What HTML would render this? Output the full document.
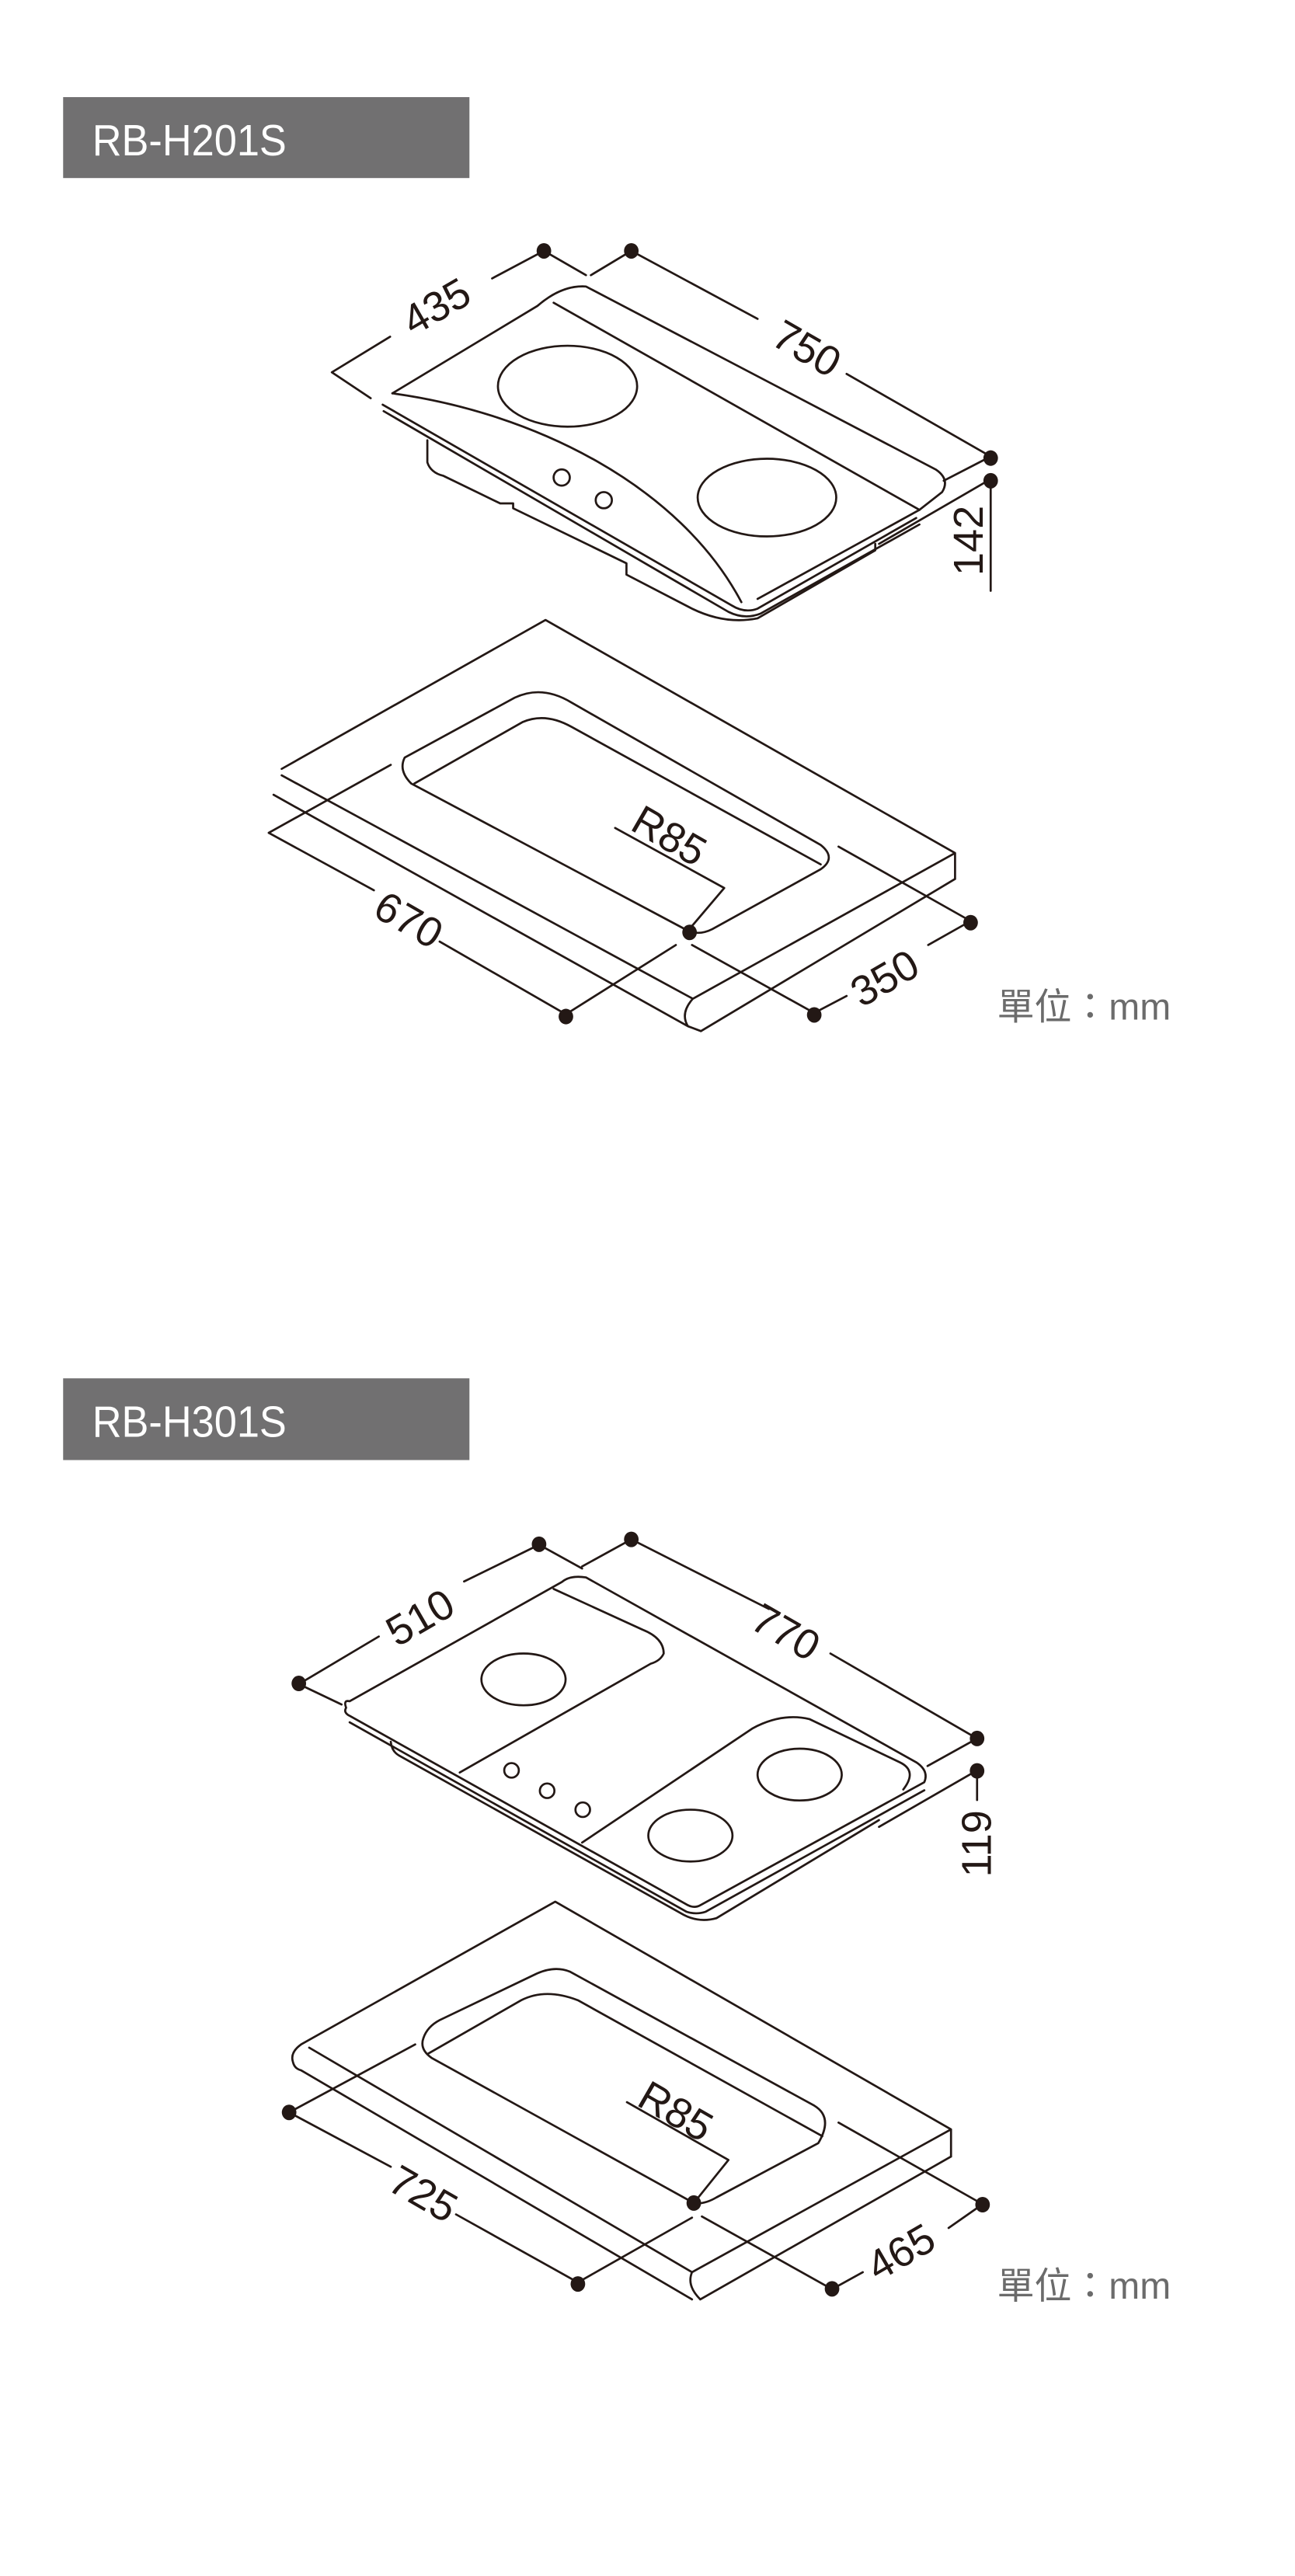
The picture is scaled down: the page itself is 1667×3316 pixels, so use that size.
<!DOCTYPE html>
<html><head><meta charset="utf-8"><style>
html,body{margin:0;padding:0;background:#fff;}
svg{display:block;}
text{font-family:"Liberation Sans","Noto Sans CJK TC",sans-serif;}
</style></head><body>
<svg width="1667" height="3316" viewBox="0 0 800 1591.4" preserveAspectRatio="none" xmlns="http://www.w3.org/2000/svg">
<g fill="none" stroke="#231815" stroke-width="1.3" stroke-linecap="round" stroke-linejoin="round">
<path d="M242.4,243 L332,189 Q347,176 362,177 L578,290 Q587,296 582,304 L568,315 L468,370"/>
<path d="M242.4,243 C330,255 420,300 458,372"/>
<path d="M342,187 L568,315"/>
<ellipse cx="350.6" cy="238.6" rx="43" ry="25"/>
<ellipse cx="473.8" cy="307.4" rx="42.8" ry="24"/>
<circle cx="347" cy="295" r="5"/>
<circle cx="373" cy="309" r="5"/>
<path d="M236.4,250 L452,374 Q460,379 468,376 L566,320"/>
<path d="M237,254 L450,378 Q460,383 470,379 L568,324"/>
<path d="M264,272 L264,285.6 Q266,292 274,294 L309,311 L317,311 L317,314 L387,348 L387,355 L427.5,376 Q448,386 468,382 L540.7,340 L540.7,336"/>
<path d="M205,230 L241,208 M304,172 L336,155 M205,230 L229,246 M336,155 L362,170"/>
<path d="M390,155 L468,197 M523,231 L612,282 M390,155 L365,170"/>
<path d="M612,282 L583,297 M612,296 L543,336 M612,296 L612,365"/>
<path d="M174,475 L337,383 L590,527 L590,543 M590,527 L428,617 M590,543 L433,637 M174,479 L428,617 M169,491 L425,634 M428,617 Q420,626 425,634 L433,637"/>
<path d="M254,484 Q246,476 250,468 L318,431 Q335,423 353,434 L507,522 Q517,530 507,537 L440,574 Q432,578 425,575 Z"/>
<path d="M256,484 L323,446 Q337,440 353,449 L507,534"/>
<path d="M380,511.5 L447.4,548.6 L425,575"/>
<path d="M166,514.5 L241.4,472.5 M166,514.5 L231,550 M271.6,581.7 L349.6,626.6 L417.5,583.8 M427.5,583.8 L503,625.8 L523,615.3 M573.4,583.8 L599.6,569 L518,523"/>
<path d="M213.8,1055 Q212,1050 216,1051 L347,977.4 Q352,973 362,974.5 L566,1088.7 Q574,1094 571,1101 L432.6,1177 M213.8,1055 Q212,1058 216,1060 L425,1177 Q429,1179 432.6,1177"/>
<path d="M216,1064 L424,1181 Q430,1183 436,1181 L571,1106"/>
<path d="M241.4,1076 Q242,1082 246.5,1084.5 L422.5,1183 Q432,1188 442.6,1185 L543,1124.4"/>
<path d="M342,981.6 L397,1006.8 Q410,1012 410,1021.5 Q408,1026 402,1027.8 L284,1095"/>
<path d="M359.6,1138.3 L465,1067.7 Q483,1058 500,1062 L555.8,1088.7 Q567,1094 558,1105.5"/>
<ellipse cx="323.4" cy="1037.5" rx="26" ry="16"/>
<ellipse cx="494" cy="1096.3" rx="26" ry="16"/>
<ellipse cx="426.5" cy="1134" rx="26" ry="16"/>
<circle cx="316" cy="1093.7" r="4.5"/>
<circle cx="338" cy="1106.3" r="4.5"/>
<circle cx="360" cy="1118" r="4.5"/>
<path d="M184.6,1040.4 L234,1011 M286.7,977 L333,954.3 M184.6,1040.4 L211,1053 M333,954.3 L359.6,969"/>
<path d="M390,951 L475,994 M513,1021.5 L603.6,1074 M390,951 L359.6,967.7"/>
<path d="M603.6,1074 L573,1091 M603.6,1093.7 L543,1128.6 M603.6,1093.7 L603.6,1112"/>
<path d="M186,1263 L343,1174.8 L587.5,1315.5 L587.5,1332.3 M587.5,1315.5 L427.5,1403.7 M587.5,1332.3 L432.6,1420.5 M191,1265 L427.5,1403.7 M186,1263 Q179,1268 181,1274 Q182,1278 186,1279 L427.5,1420.5 M427.5,1403.7 Q424,1412 432.6,1420.5"/>
<path d="M266.6,1271.3 Q259,1266 261.6,1259 Q264,1252 271.6,1248 L330,1220 Q342,1214 352,1218 L503,1300.8 Q515,1308 505.5,1324 L442.6,1357.5 Q435,1362 428.6,1361 Z"/>
<path d="M264,1269 L322,1235.7 Q337,1228 357,1235.7 L508,1319.7"/>
<path d="M387.3,1298.7 L450,1334.4 L428.6,1361"/>
<path d="M256.5,1263 L178.6,1305 L241.4,1338.6 M281.7,1368 L357,1410 L427.5,1370 M433.6,1369.3 L514,1414.2 L533,1403.7 M586,1376.4 L607,1361.7 L518,1311.3"/>
</g>
<g fill="#231815">
<ellipse cx="336" cy="155" rx="4.5" ry="4.8"/><ellipse cx="390" cy="155" rx="4.5" ry="4.8"/>
<ellipse cx="612" cy="283" rx="4.5" ry="4.8"/><ellipse cx="612" cy="297" rx="4.5" ry="4.8"/>
<ellipse cx="426" cy="576" rx="4.5" ry="4.8"/><ellipse cx="349.6" cy="628" rx="4.5" ry="4.8"/>
<ellipse cx="503" cy="627" rx="4.5" ry="4.8"/><ellipse cx="599.6" cy="570" rx="4.5" ry="4.8"/>
<ellipse cx="333" cy="954" rx="4.5" ry="4.8"/><ellipse cx="390" cy="951" rx="4.5" ry="4.8"/>
<ellipse cx="184.6" cy="1040" rx="4.5" ry="4.8"/><ellipse cx="603.6" cy="1074" rx="4.5" ry="4.8"/>
<ellipse cx="603.6" cy="1094" rx="4.5" ry="4.8"/>
<ellipse cx="428.6" cy="1361" rx="4.5" ry="4.8"/><ellipse cx="178.6" cy="1305" rx="4.5" ry="4.8"/>
<ellipse cx="357" cy="1411" rx="4.5" ry="4.8"/><ellipse cx="514" cy="1414" rx="4.5" ry="4.8"/>
<ellipse cx="607" cy="1362" rx="4.5" ry="4.8"/>
</g>
<rect x="39" y="60" width="251" height="50" fill="#717071"/>
<text x="57" y="96" font-size="27" fill="#fff" textLength="120" lengthAdjust="spacingAndGlyphs">RB-H201S</text>
<rect x="39" y="851.5" width="251" height="50.5" fill="#717071"/>
<text x="57" y="887.5" font-size="27" fill="#fff" textLength="120" lengthAdjust="spacingAndGlyphs">RB-H301S</text>
<g fill="#231815" font-size="26" text-anchor="middle">
<text transform="translate(274,197) rotate(-30)">435</text>
<text transform="translate(494,223) rotate(30)">750</text>
<text transform="translate(607,334) rotate(-90)">142</text>
<text transform="translate(409,524) rotate(30)">R85</text>
<text transform="translate(248,576) rotate(30)">670</text>
<text transform="translate(551,612) rotate(-30)">350</text>
<text transform="translate(264,1007) rotate(-30)">510</text>
<text transform="translate(481,1016) rotate(30)">770</text>
<text transform="translate(612,1139) rotate(-90)">119</text>
<text transform="translate(413,1312) rotate(30)">R85</text>
<text transform="translate(257,1363) rotate(30)">725</text>
<text transform="translate(561,1399) rotate(-30)">465</text>
</g>
<g fill="#6b6b6b" font-size="23">
<text x="616" y="630">單位：mm</text>
<text x="616" y="1420">單位：mm</text>
</g>
</svg>
</body></html>
